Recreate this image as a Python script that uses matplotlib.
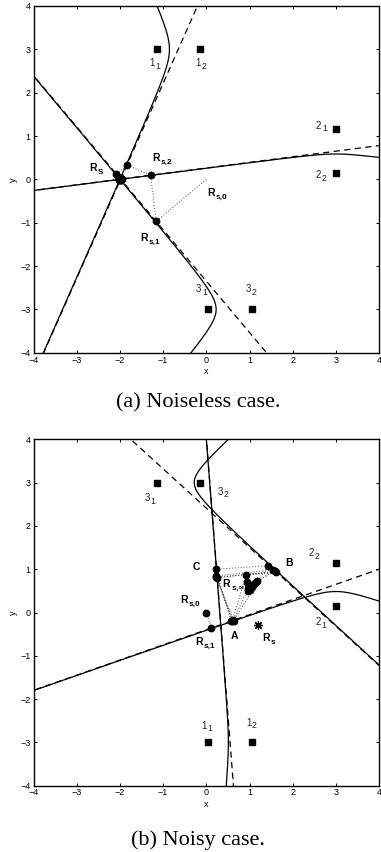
import numpy as np
import matplotlib
matplotlib.use('Agg')
import matplotlib.pyplot as plt

plt.rcParams['font.family'] = 'Liberation Sans'

# sensor pairs (i_1, i_2), same positions in both cases
pair_a = [[(-1.15, 3.0), (-0.15, 3.0)],
          [(3.0, 1.15), (3.0, 0.15)],
          [(0.05, -3.0), (1.05, -3.0)]]
pair_b = [[(0.05, -3.0), (1.05, -3.0)],
          [(3.0, 0.15), (3.0, 1.15)],
          [(-1.15, 3.0), (-0.15, 3.0)]]

# true source positions
source_a = (-2.0, 0.0)
source_b = (1.2, -0.3)

# measured range differences |P - i_1| - |P - i_2| in the noisy case
rd_b = [-0.078, -0.33, 0.74]

# iterates of the estimator
iter_a = [(0.0, 0.0), (-1.16, -0.97), (-1.29, 0.09), (-1.83, 0.33),
          (-2.08, 0.12), (-2.0, 0.0), (-1.97, -0.02), (-2.02, 0.02), (-1.95, 0.01)]
iter_b = [(0.0, 0.0), (0.12, -0.35), (0.57, -0.2), (0.22, 1.0), (1.43, 1.08),
          (0.63, -0.19), (0.23, 0.82), (1.62, 0.93), (0.92, 0.87),
          (0.6, -0.2), (0.23, 0.85), (1.55, 0.98), (0.97, 0.55),
          (0.62, -0.18), (0.24, 0.8), (1.58, 0.95), (1.0, 0.62),
          (0.96, 0.5), (0.98, 0.56), (1.0, 0.6), (0.97, 0.66), (0.95, 0.7),
          (1.02, 0.52), (1.06, 0.6), (1.1, 0.66), (1.14, 0.7), (1.17, 0.72)]

# sensor labels: (main, subscript)
lab_a = [('1', '1'), ('1', '2'), ('2', '1'), ('2', '2'), ('3', '1'), ('3', '2')]
lab_a_pos = [(-1.32, 2.62), (-0.26, 2.62), (2.54, 1.17), (2.52, 0.03), (-0.235, -2.6), (0.915, -2.6)]
lab_b = [('3', '1'), ('3', '2'), ('2', '2'), ('2', '1'), ('1', '1'), ('1', '2')]
lab_b_pos = [(-1.43, 2.57), (0.26, 2.72), (2.37, 1.31), (2.52, -0.29), (-0.12, -2.68), (0.915, -2.61)]

# estimate labels
est_a = [('R', 'S'), ('R', 's,2'), ('R', 's,0'), ('R', 's,1')]
est_a_pos = [(-2.70, 0.19), (-1.24, 0.42), (0.03, -0.39), (-1.53, -1.43)]
est_b = [('C', ''), ('B', ''), ('A', ''), ('R', 's'),
         ('R', 's,0'), ('R', 's,1'), ('R', r's,$\infty$')]
est_b_pos = [(-0.31, 0.98), (1.83, 1.07), (0.57, -0.62), (1.29, -0.66),
             (-0.6, 0.21), (-0.26, -0.75), (0.38, 0.58)]


def hyperbola(f1, f2, d, src):
    f1 = np.array(f1)
    f2 = np.array(f2)
    c = (f1 + f2) / 2
    cf = np.linalg.norm(f2 - f1) / 2
    u = (f2 - f1) / (2 * cf)
    v = np.array([-u[1], u[0]])
    a = abs(d) / 2
    b = np.sqrt(cf ** 2 - a ** 2)
    s = np.sign(d)
    t = np.linspace(-5, 5, 3000)
    pts = c[:, None] + np.outer(u, s * a * np.cosh(t)) + np.outer(v, b * np.sinh(t))
    # asymptote on the side of the source
    sig = np.sign(v @ (np.array(src) - c))
    dirn = s * a * u + sig * b * v
    line = c[:, None] + np.outer(dirn, np.array([-30, 30]))
    return pts, line


def rdiff(p, f1, f2):
    p = np.array(p)
    return np.linalg.norm(p - np.array(f1)) - np.linalg.norm(p - np.array(f2))


def sublabel(ax, pos, main, sub, size, bold, subscale, color):
    w = 'bold' if bold else 'normal'
    t = ax.text(pos[0], pos[1], main, fontsize=size, fontweight=w, color=color,
                va='baseline', ha='left')
    if sub:
        ax.annotate(sub, xy=(1, 0), xycoords=t, xytext=(0.5, -size * 0.08),
                    textcoords='offset points', fontsize=size * subscale,
                    fontweight=w, color=color, va='baseline', ha='left')


def draw(ax, pairs, rds, src, iters, dots_from):
    for (f1, f2), d in zip(pairs, rds):
        pts, line = hyperbola(f1, f2, d, src)
        ax.plot(line[0], line[1], color='black', lw=0.9, linestyle=(0, (5, 3.5)))
        ax.plot(pts[0], pts[1], color='black', lw=0.9)
    sx = [p[0] for pr in pairs for p in pr]
    sy = [p[1] for pr in pairs for p in pr]
    ax.plot(sx, sy, 's', color='black', ms=3.8)
    ix = [p[0] for p in iters]
    iy = [p[1] for p in iters]
    ax.plot(ix, iy, color='#555555', lw=0.8, linestyle=(0, (0.8, 1.8)))
    ax.plot(ix[dots_from:], iy[dots_from:], 'o', color='black', ms=4.6)
    ax.set_xlim(-4, 4)
    ax.set_ylim(-4, 4)
    ax.set_xticks(range(-4, 5))
    ax.set_yticks(range(-4, 5))
    ax.tick_params(direction='in', top=True, right=True, length=2.5, width=0.7,
                   labelsize=6.5, pad=2)
    for sp in ax.spines.values():
        sp.set_linewidth(1.0)
    ax.set_xlabel('x', fontsize=6.5, labelpad=1.5)
    ax.set_ylabel('y', fontsize=6.5, labelpad=2)


fig = plt.figure(figsize=(3.81, 8.52), dpi=100)
ax1 = fig.add_axes([0.088, 0.586, 0.907, 0.407])
ax2 = fig.add_axes([0.088, 0.0778, 0.907, 0.4066])

# noiseless case: range differences from the true source
rd_a = [rdiff(source_a, f1, f2) for f1, f2 in pair_a]
draw(ax1, pair_a, rd_a, source_a, iter_a, 1)
ax1.plot(source_a[0], source_a[1], 'o', color='black', ms=6.5)
for (m, s), p in zip(lab_a, lab_a_pos):
    sublabel(ax1, p, m, s, 7, False, 0.9, '#222222')
for (m, s), p in zip(est_a, est_a_pos):
    sublabel(ax1, p, m, s, 7.5, True, 0.78, 'black')

# noisy case
draw(ax2, pair_b, rd_b, source_b, iter_b, 0)
ax2.plot(source_b[0], source_b[1], marker=(8, 2, 0), color='black', ms=6.5, mew=0.9)
for (m, s), p in zip(lab_b, lab_b_pos):
    sublabel(ax2, p, m, s, 7, False, 0.9, '#222222')
for (m, s), p in zip(est_b, est_b_pos):
    sublabel(ax2, p, m, s, 7.5, True, 0.78, 'black')

fig.text(0.52, 0.527, '(a) Noiseless case.', family='Liberation Serif',
         fontsize=16, ha='center', va='center')
fig.text(0.519, 0.014, '(b) Noisy case.', family='Liberation Serif',
         fontsize=16, ha='center', va='center')

fig.savefig('out.png', dpi=100)
